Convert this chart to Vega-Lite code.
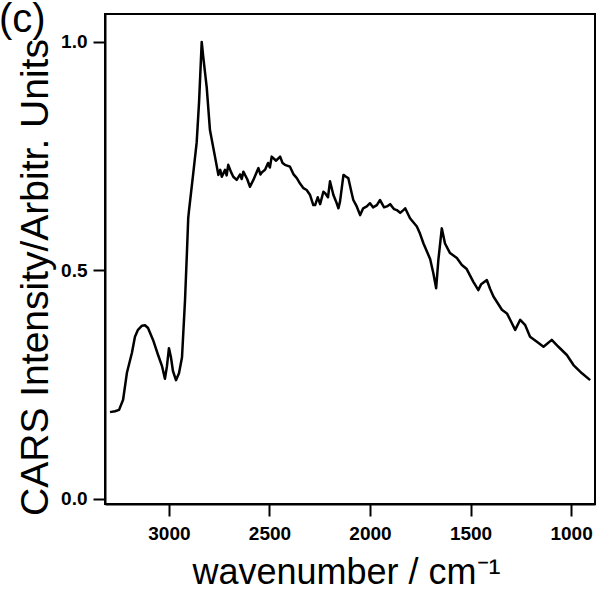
{
  "$schema": "https://vega.github.io/schema/vega-lite/v6.json",
  "width": 490,
  "height": 490,
  "autosize": "none",
  "padding": {"left": 105, "top": 14, "right": 4, "bottom": 96},
  "background": "white",
  "title": {"text": "(c)", "anchor": "start", "frame": "group", "fontSize": 40, "fontWeight": "normal", "font": "Liberation Sans", "color": "black", "dx": -106, "offset": -26},
  "config": {
    "view": {"stroke": "black", "strokeWidth": 2},
    "axis": {"grid": false, "domainColor": "black", "domainWidth": 2, "tickColor": "black", "tickWidth": 2, "tickSize": 12, "labelFont": "Liberation Sans", "labelFontWeight": "bold", "labelFontSize": 19, "labelColor": "black", "titleFont": "Liberation Sans", "titleFontWeight": "normal", "titleColor": "black"}
  },
  "data": {"values": [
    {"w": 3293, "v": 0.19}, {"w": 3268, "v": 0.192}, {"w": 3248, "v": 0.195}, {"w": 3228, "v": 0.217},
    {"w": 3209, "v": 0.276}, {"w": 3184, "v": 0.32}, {"w": 3169, "v": 0.355}, {"w": 3154, "v": 0.37},
    {"w": 3134, "v": 0.379}, {"w": 3119, "v": 0.38}, {"w": 3104, "v": 0.374}, {"w": 3079, "v": 0.348},
    {"w": 3054, "v": 0.315}, {"w": 3034, "v": 0.29}, {"w": 3020, "v": 0.263}, {"w": 3010, "v": 0.29},
    {"w": 3000, "v": 0.33}, {"w": 2990, "v": 0.31}, {"w": 2980, "v": 0.28}, {"w": 2965, "v": 0.26},
    {"w": 2950, "v": 0.275}, {"w": 2935, "v": 0.31}, {"w": 2920, "v": 0.435}, {"w": 2910, "v": 0.545},
    {"w": 2904, "v": 0.615}, {"w": 2900, "v": 0.632}, {"w": 2879, "v": 0.713}, {"w": 2862, "v": 0.78},
    {"w": 2850, "v": 0.87}, {"w": 2837, "v": 1.0}, {"w": 2830, "v": 0.97}, {"w": 2812, "v": 0.9},
    {"w": 2796, "v": 0.807}, {"w": 2771, "v": 0.749}, {"w": 2754, "v": 0.709}, {"w": 2745, "v": 0.72}, {"w": 2737, "v": 0.705},
    {"w": 2721, "v": 0.72}, {"w": 2713, "v": 0.708}, {"w": 2705, "v": 0.731}, {"w": 2691, "v": 0.715}, {"w": 2680, "v": 0.705},
    {"w": 2663, "v": 0.698}, {"w": 2646, "v": 0.71}, {"w": 2638, "v": 0.7}, {"w": 2630, "v": 0.716}, {"w": 2611, "v": 0.7},
    {"w": 2597, "v": 0.683}, {"w": 2580, "v": 0.698}, {"w": 2555, "v": 0.724}, {"w": 2545, "v": 0.71}, {"w": 2537, "v": 0.715},
    {"w": 2522, "v": 0.72}, {"w": 2507, "v": 0.735}, {"w": 2498, "v": 0.725}, {"w": 2489, "v": 0.749}, {"w": 2467, "v": 0.74},
    {"w": 2447, "v": 0.749}, {"w": 2435, "v": 0.735}, {"w": 2423, "v": 0.731}, {"w": 2398, "v": 0.727}, {"w": 2380, "v": 0.71}, {"w": 2364, "v": 0.702},
    {"w": 2348, "v": 0.69}, {"w": 2331, "v": 0.68}, {"w": 2315, "v": 0.676}, {"w": 2298, "v": 0.665},
    {"w": 2282, "v": 0.643}, {"w": 2273, "v": 0.643}, {"w": 2260, "v": 0.66}, {"w": 2248, "v": 0.645}, {"w": 2232, "v": 0.672},
    {"w": 2223, "v": 0.669}, {"w": 2209, "v": 0.66}, {"w": 2199, "v": 0.695}, {"w": 2182, "v": 0.665},
    {"w": 2169, "v": 0.651}, {"w": 2157, "v": 0.636}, {"w": 2149, "v": 0.651}, {"w": 2132, "v": 0.709},
    {"w": 2119, "v": 0.705}, {"w": 2108, "v": 0.702}, {"w": 2091, "v": 0.669}, {"w": 2083, "v": 0.654},
    {"w": 2066, "v": 0.64}, {"w": 2049, "v": 0.621}, {"w": 2034, "v": 0.636}, {"w": 2016, "v": 0.64},
    {"w": 2000, "v": 0.647}, {"w": 1985, "v": 0.638}, {"w": 1966, "v": 0.643}, {"w": 1950, "v": 0.654}, {"w": 1930, "v": 0.638}, {"w": 1916, "v": 0.64},
    {"w": 1900, "v": 0.645}, {"w": 1880, "v": 0.634}, {"w": 1867, "v": 0.632}, {"w": 1850, "v": 0.626}, {"w": 1834, "v": 0.632}, {"w": 1825, "v": 0.636},
    {"w": 1801, "v": 0.614}, {"w": 1767, "v": 0.596}, {"w": 1751, "v": 0.58}, {"w": 1734, "v": 0.559},
    {"w": 1701, "v": 0.525}, {"w": 1685, "v": 0.494}, {"w": 1671, "v": 0.461}, {"w": 1660, "v": 0.523},
    {"w": 1643, "v": 0.592}, {"w": 1627, "v": 0.559}, {"w": 1602, "v": 0.538}, {"w": 1568, "v": 0.527},
    {"w": 1543, "v": 0.512}, {"w": 1519, "v": 0.503}, {"w": 1486, "v": 0.475}, {"w": 1461, "v": 0.457},
    {"w": 1447, "v": 0.47}, {"w": 1419, "v": 0.479}, {"w": 1403, "v": 0.46}, {"w": 1386, "v": 0.443},
    {"w": 1344, "v": 0.414}, {"w": 1319, "v": 0.406}, {"w": 1303, "v": 0.392}, {"w": 1278, "v": 0.37},
    {"w": 1253, "v": 0.392}, {"w": 1229, "v": 0.381}, {"w": 1204, "v": 0.355}, {"w": 1170, "v": 0.344},
    {"w": 1137, "v": 0.333}, {"w": 1096, "v": 0.348}, {"w": 1063, "v": 0.333}, {"w": 1021, "v": 0.315},
    {"w": 988, "v": 0.293}, {"w": 946, "v": 0.275}, {"w": 905, "v": 0.26}
  ]},
  "mark": {"type": "line", "color": "black", "strokeWidth": 2.5, "strokeJoin": "round", "clip": true},
  "encoding": {
    "x": {"field": "w", "type": "quantitative", "scale": {"domain": [3318, 881], "nice": false, "zero": false},
      "axis": {"values": [3000, 2500, 2000, 1500, 1000], "format": "d", "labelFontSize": 19, "labelFontWeight": "bold", "labelPadding": 8, "title": "wavenumber / cm⁻¹", "titleFontSize": 36, "titleX": 241, "titleY": 68, "titleBaseline": "middle", "titleAlign": "center"}},
    "y": {"field": "v", "type": "quantitative", "scale": {"domain": [-0.011, 1.061], "nice": false, "zero": false},
      "axis": {"values": [0, 0.5, 1.0], "format": ".1f", "labelFontSize": 19, "labelFontWeight": "bold", "labelPadding": 6, "title": "CARS Intensity/Arbitr. Units", "titleFontSize": 39, "titleAngle": -90, "titleX": -70, "titleY": 263, "titleBaseline": "middle", "titleAlign": "center"}}
  }
}
